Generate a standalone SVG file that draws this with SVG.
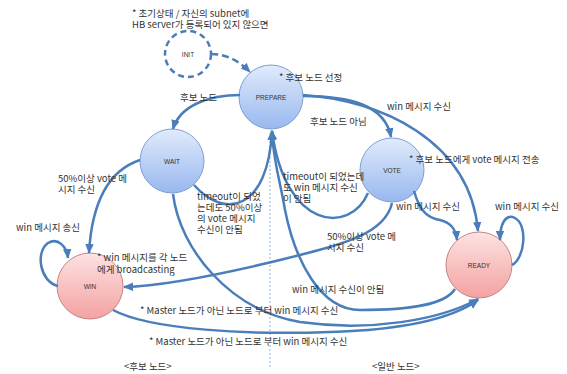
<svg xmlns="http://www.w3.org/2000/svg" width="567" height="374" viewBox="0 0 567 374">
<defs>
<linearGradient id="gb" x1="0" y1="0" x2="0" y2="1"><stop offset="0" stop-color="#e1ebfc"/><stop offset="1" stop-color="#98b8ee"/></linearGradient>
<linearGradient id="gr" x1="0" y1="0" x2="0" y2="1"><stop offset="0" stop-color="#fde2e2"/><stop offset="1" stop-color="#f4a2a2"/></linearGradient>
<marker id="ah" markerUnits="userSpaceOnUse" markerWidth="10" markerHeight="10" viewBox="0 0 10 10" refX="9" refY="5" orient="auto"><path d="M0,0.8 L10,5 L0,9.2 z" fill="#4a7ebb"/></marker>
<style>
.e{fill:none;stroke:#4a7ebb;stroke-width:2.5;marker-end:url(#ah)}
.d{stroke-dasharray:7,4}
.nb{fill:url(#gb);stroke:#7c9fd6;stroke-width:1}
.nr{fill:url(#gr);stroke:#c98282;stroke-width:1}
.nt{font-family:"Liberation Sans",Arial,sans-serif;font-size:6.5px;fill:#333;text-anchor:middle}
.t{font-family:"Noto Sans CJK KR","Noto Sans",sans-serif;font-size:9.5px;fill:#333}
</style>
</defs>
<rect width="567" height="374" fill="#fff"/>
<line x1="270" y1="133" x2="270" y2="368" stroke="#8eb4e3" stroke-width="1" stroke-dasharray="2,2"/>
<g id="INIT"><circle cx="188" cy="54" r="23" fill="#fff" stroke="#4a7ebb" stroke-width="2.5" stroke-dasharray="6,4"/><text class="nt" x="188" y="56.5">INIT</text></g>
<g id="PREPARE"><circle class="nb" cx="271" cy="97" r="32"/><text class="nt" x="271" y="99.5">PREPARE</text></g>
<g id="WAIT"><circle class="nb" cx="172" cy="161" r="32"/><text class="nt" x="172" y="163.5">WAIT</text></g>
<g id="VOTE"><circle class="nb" cx="392" cy="170" r="32"/><text class="nt" x="392" y="172.5">VOTE</text></g>
<g id="WIN"><circle class="nr" cx="90" cy="286" r="33"/><text class="nt" x="90" y="288.5">WIN</text></g>
<g id="READY"><circle class="nr" cx="479" cy="265" r="33"/><text class="nt" x="479" y="267.5">READY</text></g>
<g id="connectors">
<path class="e d" d="M211,54 C228,54 240,62 250,72"/>
<path class="e" d="M240,95 C210,95 180,105 173,129"/>
<path class="e" d="M303,96 C350,96 385,105 391,137"/>
<path class="e" d="M303,95 C380,100 470,140 478,231"/>
<path class="e" d="M194,185 C225,220 268,210 272,131"/>
<path class="e" d="M368,193 C350,235 285,230 272,131"/>
<path class="e" d="M140,160 C110,170 92,200 89,253"/>
<path class="e" d="M58,286 C40,282 35,252 48,243 C58,237 67,247 68,258"/>
<path class="e" d="M392,203 C385,235 340,245 280,260 C210,277 160,286 124,287"/>
<path class="e" d="M414,191 C420,212 428,218 440,220 C452,223 456,230 457,240"/>
<path class="e" d="M512,265 C525,258 528,225 515,218 C505,213 500,225 500,240"/>
<path class="e" d="M455,289 C445,305 410,310 360,310 C320,310 295,260 285,210 C280,180 273,160 272,131"/>
<path class="e" d="M173,194 C180,250 230,310 300,322 C370,332 440,320 478,299"/>
<path class="e" d="M113,310 C150,330 250,335 330,332 C400,330 450,320 478,300"/>
</g>
<g id="labels">
<text class="t" x="132" y="17">* 초기상태 / 자신의 subnet에</text>
<text class="t" x="132" y="28">HB server가 등록되어 있지 않으면</text>
<text class="t" x="279" y="81">* 후보 노드 선정</text>
<text class="t" x="180" y="101">후보 노드</text>
<text class="t" x="387" y="110">win 메시지 수신</text>
<text class="t" x="310" y="125">후보 노드 아님</text>
<text class="t" x="409" y="163">* 후보 노드에게 vote 메시지 전송</text>
<text class="t" x="283" y="180">timeout이 되었는데</text>
<text class="t" x="283" y="191">도 win 메시지 수신</text>
<text class="t" x="283" y="202">이 안됨</text>
<text class="t" x="197" y="200">timeout이 되었</text>
<text class="t" x="197" y="211">는데도 50%이상</text>
<text class="t" x="197" y="222">의 vote 메시지</text>
<text class="t" x="197" y="233">수신이 안됨</text>
<text class="t" x="58" y="182">50%이상 vote 메</text>
<text class="t" x="58" y="193">시지 수신</text>
<text class="t" x="16" y="231">win 메시지 송신</text>
<text class="t" x="97" y="261">* win 메시지를 각 노드</text>
<text class="t" x="97" y="273">에게 broadcasting</text>
<text class="t" x="396" y="210">win 메시지 수신</text>
<text class="t" x="495" y="210">win 메시지 수신</text>
<text class="t" x="327" y="240">50%이상 vote 메</text>
<text class="t" x="327" y="251">시지 수신</text>
<text class="t" x="292" y="293">win 메시지 수신이 안됨</text>
<text class="t" x="140" y="314">* Master 노드가 아닌 노드로 부터 win 메시지 수신</text>
<text class="t" x="149" y="345">* Master 노드가 아닌 노드로 부터 win 메시지 수신</text>
<text class="t" x="124" y="370">&lt;후보 노드&gt;</text>
<text class="t" x="372" y="370">&lt;일반 노드&gt;</text>
</g>
</svg>
